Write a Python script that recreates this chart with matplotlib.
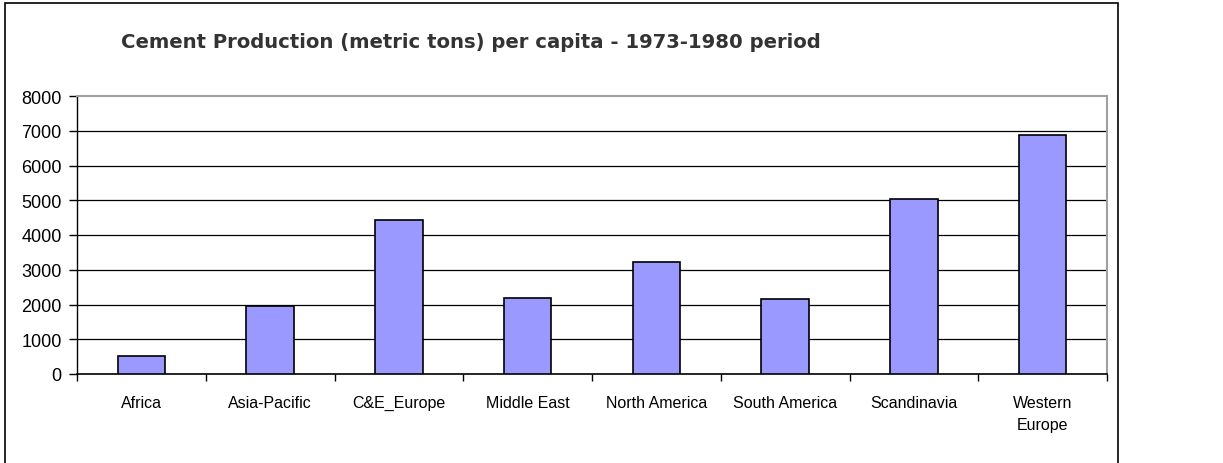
import numpy as np
import matplotlib
matplotlib.use("Agg")
import matplotlib.pyplot as plt
from matplotlib.ticker import FixedLocator

plt.rcParams['font.family'] = ['Liberation Sans', 'DejaVu Sans']

# Chart data
regions = ["Africa", "Asia-Pacific", "C&E_Europe", "Middle East",
           "North America", "South America", "Scandinavia", "Western\nEurope"]
production = [520, 1970, 4420, 2200, 3220, 2160, 5040, 6890]
y_ticks = [0, 1000, 2000, 3000, 4000, 5000, 6000, 7000, 8000]

fig = plt.figure(figsize=(12.23, 4.64), dpi=100)
ax = fig.add_axes([77 / 1223, 1 - 375 / 464, (1107 - 77) / 1223, (375 - 97) / 464])

x = np.arange(len(regions))
ax.bar(x, production, width=0.37, color="#9999ff", edgecolor="black",
       linewidth=1.2, zorder=3)

ax.set_xlim(-0.5, len(regions) - 0.5)
ax.set_ylim(0, 8000)
ax.set_yticks(y_ticks)
ax.tick_params(axis='y', labelsize=13, length=6, width=1, direction='out', pad=5)

ax.set_xticks(x)
ax.set_xticklabels(regions, fontsize=11.5, linespacing=1.6)
ax.xaxis.set_minor_locator(FixedLocator(np.arange(-0.5, len(regions), 1.0)))
ax.tick_params(axis='x', which='major', length=0, pad=15)
ax.tick_params(axis='x', which='minor', length=5, width=1, direction='out')

# horizontal gridlines
for v in y_ticks[1:-1]:
    ax.axhline(v, color="black", linewidth=0.9, zorder=1)

ax.spines['top'].set_color("#a0a0a0")
ax.spines['right'].set_color("#a0a0a0")
ax.spines['top'].set_linewidth(1.5)
ax.spines['right'].set_linewidth(1.5)
ax.spines['left'].set_linewidth(1)
ax.spines['bottom'].set_linewidth(1.2)

fig.text(471 / 1223, 1 - 42 / 464,
         "Cement Production (metric tons) per capita - 1973-1980 period",
         ha='center', va='center', fontsize=14.1, fontweight='bold',
         color="#333333", family=['DejaVu Sans'])

# outer chart frame
frame = plt.Rectangle((5 / 1223, -0.01), (1118 - 5) / 1223, 1 - 4 / 464 + 0.01,
                      transform=fig.transFigure, fill=False,
                      edgecolor="black", linewidth=1.2)
fig.patches.append(frame)

fig.savefig("out.png", dpi=100)
